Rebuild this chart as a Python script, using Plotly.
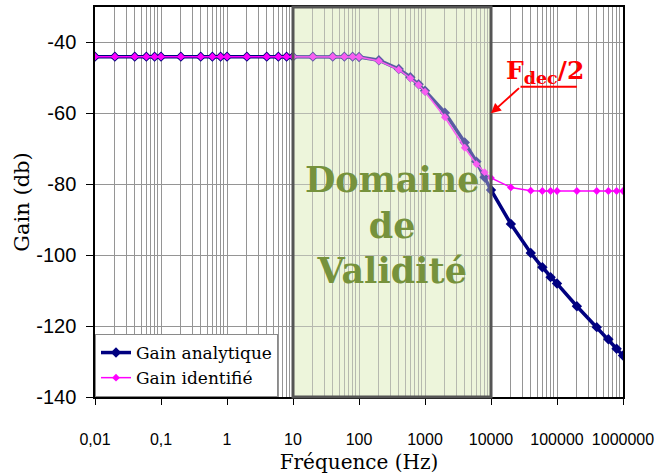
import numpy as np
import plotly.graph_objects as go

# Frequency points (Hz)
freq = [0.01, 0.02, 0.04, 0.06, 0.08,
        0.1, 0.2, 0.4, 0.6, 0.8,
        1, 2, 4, 6, 8,
        10, 20, 40, 60, 80,
        100, 200, 400, 600, 800,
        1000, 2000, 4000, 6000, 8000,
        10000, 20000, 40000, 60000, 80000,
        100000, 200000, 400000, 600000, 800000,
        1000000]

# Analytic gain (dB)
gain_analytique = [-44, -44, -44, -44, -44,
                   -44, -44, -44, -44, -44,
                   -44, -44, -44, -44, -44,
                   -44, -44, -44, -44, -44,
                   -44.1, -45, -47.5, -49.8, -51.8,
                   -53.6, -59.8, -68.2, -73.6, -78,
                   -81.6, -91.2, -99.4, -103.4, -106.2,
                   -108, -114.4, -120.3, -123.7, -126.4,
                   -128.3]

# Identified gain (dB)
gain_identifie = [-44, -44, -44, -44, -44,
                  -44, -44, -44, -44, -44,
                  -44, -44, -44, -44, -44,
                  -44, -44, -44, -44, -44,
                  -44.1, -45.2, -47.7, -50.1, -52,
                  -53.9, -61.1, -69.7, -74.3, -76.6,
                  -78.2, -80.9, -81.8, -81.9, -81.9,
                  -81.9, -81.9, -81.9, -81.9, -81.9,
                  -81.9]

# Axis ticks
x_tickvals = [0.01, 0.1, 1, 10, 100, 1000, 10000, 100000, 1000000]
x_ticktext = ["0,01", "0,1", "1", "10", "100", "1000", "10000", "100000", "1000000"]
y_tickvals = [-140, -120, -100, -80, -60, -40]
y_ticktext = ["-140", "-120", "-100", "-80", "-60", "-40"]

# Validity domain and decimation frequency
f_min_valid = 10
f_max_valid = 10000
f_dec_half = 10000

SERIF = "DejaVu Serif"
SANS = "Liberation Sans"
GRID = "#959595"

fig = go.Figure()

fig.add_trace(go.Scatter(
    x=freq, y=gain_analytique, name="Gain analytique",
    mode="lines+markers",
    line=dict(color="#000080", width=3.5),
    marker=dict(symbol="diamond", size=8, color="#000080"),
))
fig.add_trace(go.Scatter(
    x=freq, y=gain_identifie, name="Gain identifié",
    mode="lines+markers",
    line=dict(color="#FF00FF", width=1.5),
    marker=dict(symbol="diamond", size=6, color="#FF00FF"),
))

# Validity domain: solid fill under the grid, translucent veil above the curves
fig.add_shape(type="rect", xref="x", yref="paper",
              x0=f_min_valid, x1=f_max_valid, y0=0, y1=1,
              fillcolor="#EEF5DC", line=dict(width=0), layer="below")
fig.add_shape(type="rect", xref="x", yref="paper",
              x0=f_min_valid, x1=f_max_valid, y0=0, y1=1,
              fillcolor="rgba(236,244,218,0.38)",
              line=dict(color="#555555", width=3), layer="above")

fig.add_annotation(
    x=np.log10(np.sqrt(f_min_valid * f_max_valid)), y=-91.5,
    xref="x", yref="y", showarrow=False,
    text="Domaine<br>de<br>Validité",
    font=dict(family=SERIF, size=35, color="#76923C", weight="bold"),
)

# F_dec/2 label with underline and arrow to the domain edge
under_x0, under_x1, under_y = 2.8e4, 2.0e5, -52.5
fig.add_shape(type="line", xref="x", yref="y",
              x0=under_x0, x1=under_x1, y0=under_y, y1=under_y,
              line=dict(color="#FF0000", width=2))
fig.add_annotation(
    x=np.log10(f_dec_half), y=-60, xref="x", yref="y",
    ax=np.log10(under_x0), ay=under_y, axref="x", ayref="y",
    showarrow=True, arrowhead=2, arrowsize=1, arrowwidth=2,
    arrowcolor="#FF0000", text="", standoff=0,
)
fig.add_annotation(
    x=np.log10(np.sqrt(under_x0 * under_x1)) - 0.05, y=-48.3,
    xref="x", yref="y", showarrow=False,
    text="F<sub>dec</sub>/2",
    font=dict(family=SERIF, size=25, color="#FF0000", weight="bold"),
)

fig.update_xaxes(
    type="log", range=[-2, 6], automargin=False,
    tickvals=x_tickvals, ticktext=x_ticktext,
    tickfont=dict(family=SANS, size=16, color="black"),
    ticks="outside", ticklen=6, tickcolor="black",
    ticklabelstandoff=21,
    showline=True, linecolor="black", linewidth=1.5, mirror=True,
    showgrid=True, gridcolor=GRID, gridwidth=1,
    minor=dict(dtick="D1", showgrid=True, gridcolor=GRID, gridwidth=1, ticks=""),
    zeroline=False,
    title=dict(text="Fréquence (Hz)", font=dict(family=SERIF, size=20, color="black"),
               standoff=9),
)
fig.update_yaxes(
    range=[-140, -30], automargin=False,
    tickvals=y_tickvals, ticktext=y_ticktext,
    tickfont=dict(family=SANS, size=20, color="black"),
    ticks="outside", ticklen=7, tickcolor="black",
    ticklabelstandoff=6,
    showline=True, linecolor="black", linewidth=1.5, mirror=True,
    showgrid=True, gridcolor=GRID, gridwidth=1,
    zeroline=False,
    title=dict(text="Gain (db)", font=dict(family=SERIF, size=21, color="black"),
               standoff=1),
)

fig.update_layout(
    width=657, height=474,
    margin=dict(l=95, r=34, t=7, b=77),
    paper_bgcolor="white", plot_bgcolor="white",
    showlegend=True,
    legend=dict(
        x=0, y=0, xanchor="left", yanchor="bottom",
        bgcolor="white", bordercolor="#8a8a8a", borderwidth=1,
        font=dict(family=SERIF, size=17, color="black"),
        tracegroupgap=0,
    ),
)

fig.write_html("out.html")
